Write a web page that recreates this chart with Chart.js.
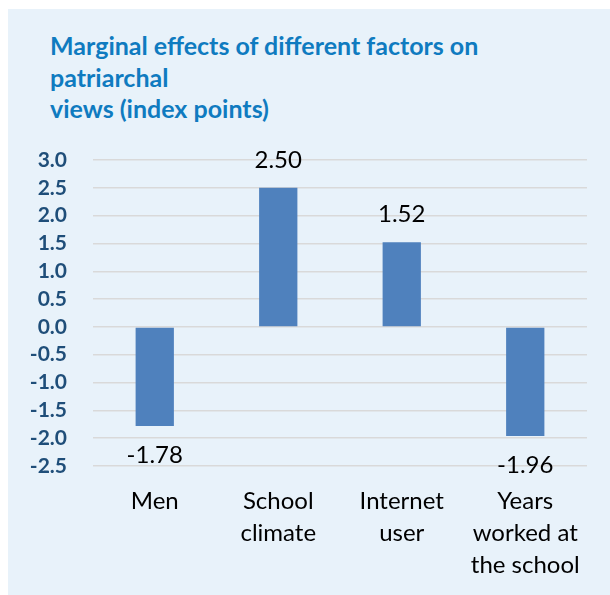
<!DOCTYPE html>
<html>
<head>
<meta charset="utf-8">
<script src="https://cdn.jsdelivr.net/npm/chart.js@4"></script>
<style>
  html, body { margin: 0; padding: 0; background: #ffffff; }
  #wrap { position: relative; width: 610px; height: 595px; overflow: hidden; }
  #panel { position: absolute; left: 8px; top: 9px; width: 602px; height: 586px; background: #e8f2fa; }
  #title { position: absolute; left: 50px; top: 30px; font-family: Lato, sans-serif; font-weight: bold;
           font-size: 25px; line-height: 31.5px; color: #0f7bc0; white-space: pre; }
  canvas { position: absolute; left: 0; top: 0; }
</style>
</head>
<body>
<div id="wrap">
  <div id="panel"></div>
  <div id="title">Marginal effects of different factors on
patriarchal
views (index points)</div>
  <canvas id="c" width="610" height="595"></canvas>
</div>
<script>
const categories = [["Men"], ["School", "climate"], ["Internet", "user"], ["Years", "worked at", "the school"]];
const values = [-1.78, 2.50, 1.52, -1.96];
const yMin = -2.5, yMax = 3.0, yStep = 0.5;

const valueLabels = {
  id: 'valueLabels',
  afterDatasetsDraw(chart) {
    const ctx = chart.ctx;
    const meta = chart.getDatasetMeta(0);
    ctx.save();
    ctx.font = '24px Lato, sans-serif';
    ctx.fillStyle = '#000000';
    ctx.textAlign = 'center';
    ctx.textBaseline = 'alphabetic';
    meta.data.forEach((el, i) => {
      const v = values[i];
      const y = v >= 0 ? el.y - 20 : el.y + 37;
      ctx.fillText(v.toFixed(2), el.x, y);
    });
    ctx.restore();
  }
};

new Chart(document.getElementById('c'), {
  type: 'bar',
  data: {
    labels: categories,
    datasets: [{
      data: values,
      backgroundColor: '#4f81bd',
      borderWidth: 0,
      categoryPercentage: 1.0,
      barPercentage: 0.31
    }]
  },
  options: {
    responsive: false,
    devicePixelRatio: 1,
    animation: false,
    layout: { padding: { top: 160, right: 23, bottom: 0, left: 0 } },
    plugins: { legend: { display: false }, tooltip: { enabled: false }, title: { display: false } },
    scales: {
      x: {
        grid: { display: false, drawTicks: false },
        border: { display: false },
        ticks: {
          font: { family: 'Lato, sans-serif', size: 24, lineHeight: 1.33 },
          color: '#000000',
          padding: 19,
          maxRotation: 0,
          autoSkip: false
        },
        afterFit(axis) { axis.height = 129; }
      },
      y: {
        min: yMin,
        max: yMax,
        grid: { color: '#d9d9d9', lineWidth: 1.5, drawTicks: false },
        border: { display: false },
        ticks: {
          stepSize: yStep,
          autoSkip: false,
          font: { family: 'Lato, sans-serif', size: 21, weight: 'bold' },
          color: '#1f4e79',
          padding: 26,
          callback: v => Number(v).toFixed(1)
        },
        afterFit(axis) { axis.width = 93; }
      }
    }
  },
  plugins: [valueLabels]
});
</script>
</body>
</html>
